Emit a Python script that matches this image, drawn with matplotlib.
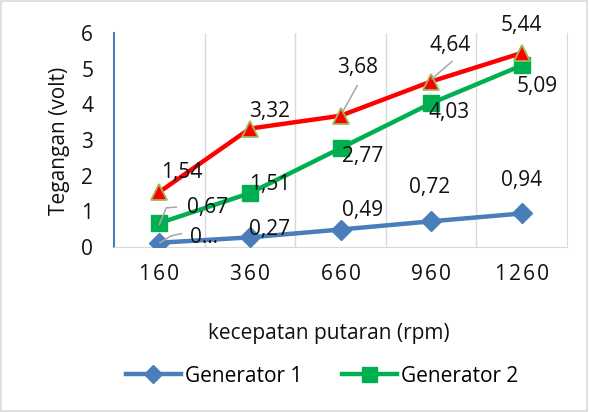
import matplotlib
matplotlib.use("Agg")
import matplotlib.pyplot as plt
import matplotlib.transforms as mt
from matplotlib.lines import Line2D
from matplotlib.patches import Rectangle

plt.rcParams['font.family'] = ['Open Sans', 'DejaVu Sans']

rpm = ["160", "360", "660", "960", "1260"]
gen1 = [0.12, 0.27, 0.49, 0.72, 0.94]
gen2 = [0.67, 1.51, 2.77, 4.03, 5.09]
gen3 = [1.54, 3.32, 3.68, 4.64, 5.44]
gen1_labels = ["0…", "0,27", "0,49", "0,72", "0,94"]

fig = plt.figure(figsize=(5.89, 4.12), dpi=100)
ax = fig.add_axes([114/589, 1-247/412, (567-114)/589, (247-33)/412])
ax.set_xlim(-0.5, 4.5)
ax.set_ylim(0, 6)

x = list(range(len(rpm)))
blue, green, red = "#4A7EBB", "#00B050", "#FF0000"
txt = "#111111"
lw = 3.2

l1, = ax.plot(x, gen1, color=blue, lw=lw, marker="D", ms=10,
              mfc=blue, mec=blue, label="Generator 1", zorder=3)
l2, = ax.plot(x, gen2, color=green, lw=lw, marker="s", ms=12,
              mfc=green, mec=green, label="Generator 2", zorder=4)
l3, = ax.plot(x, gen3, color=red, lw=lw, marker="^", ms=12,
              mfc=red, mec="#9BBB59", mew=1.3, zorder=5)

fs = 15
def fmt(v):
    return f"{v:.2f}".replace(".", ",")

# data label offsets (points) from each marker
off1 = [(32, 4), (14, 6), (16, 14), (-1, 24), (0, 24)]
off2 = [(35, 11), (14, 6), (16, -6), (13, -7), (11, -15)]
off3 = [(16, 14), (14, 12), (12, 35), (14, 26), (0, 20)]

for i in range(len(x)):
    for vals, labels, offs in ((gen1, gen1_labels, off1),
                               (gen2, [fmt(v) for v in gen2], off2),
                               (gen3, [fmt(v) for v in gen3], off3)):
        ax.annotate(labels[i], (x[i], vals[i]), xytext=offs[i],
                    textcoords="offset points", ha="center", va="center",
                    fontsize=fs, color=txt, zorder=7)

# gray leader lines for labels moved away from their markers
def leader(xp, yp, pts):
    verts = []
    for dx, dy in pts:
        t = mt.offset_copy(ax.transData, fig=fig, x=dx, y=dy, units="points")
        verts.append(fig.transFigure.inverted().transform(t.transform((xp, yp))))
    fig.add_artist(Line2D([v[0] for v in verts], [v[1] for v in verts],
                          color="#A6A6A6", lw=1.1, transform=fig.transFigure,
                          zorder=6))

leader(x[0], gen1[0], [(0.5, 0), (8.6, 5), (16, 6.5)])
leader(x[0], gen2[0], [(0, -1), (5, 11), (12.2, 11.5)])
leader(x[2], gen3[2], [(2, 3.6), (12, 21.6)])
leader(x[3], gen3[3], [(0.7, 2), (15, 14.4)])

ax.set_yticks(range(0, 7))
ax.set_xticks(x)
ax.set_xticklabels(["\u200a".join(r) for r in rpm])
ax.tick_params(axis="both", length=0, labelsize=fs, colors=txt)
ax.tick_params(axis="y", pad=15)
ax.tick_params(axis="x", pad=12)

for b in [0.5, 1.5, 2.5, 3.5]:
    ax.axvline(b, color="#D9D9D9", lw=1.0, zorder=1)
ax.spines["top"].set_visible(False)
ax.spines["right"].set_color("#D9D9D9")
ax.spines["bottom"].set_color("#D9D9D9")
ax.spines["left"].set_color(blue)
ax.spines["left"].set_linewidth(1.5)

fig.text(59/589, 1-141/412, "Tegangan (volt)", rotation=90, ha="center",
         va="center", fontsize=fs, color=txt)
fig.text(329/589, 1-334/412, "kecepatan putaran (rpm)", ha="center",
         va="center", fontsize=fs, color=txt)

fig.legend(handles=[l1, l2], loc="center", bbox_to_anchor=(322/589, 1-376/412),
           ncol=2, frameon=False, fontsize=fs, handlelength=2.64,
           columnspacing=1.9, handletextpad=0.2, markerscale=0.9)

fig.patches.append(Rectangle((0.002, 0.003), 0.995, 0.994, transform=fig.transFigure,
                             fill=False, edgecolor="#D9D9D9", lw=1.2))

fig.savefig("out.png", dpi=100)
